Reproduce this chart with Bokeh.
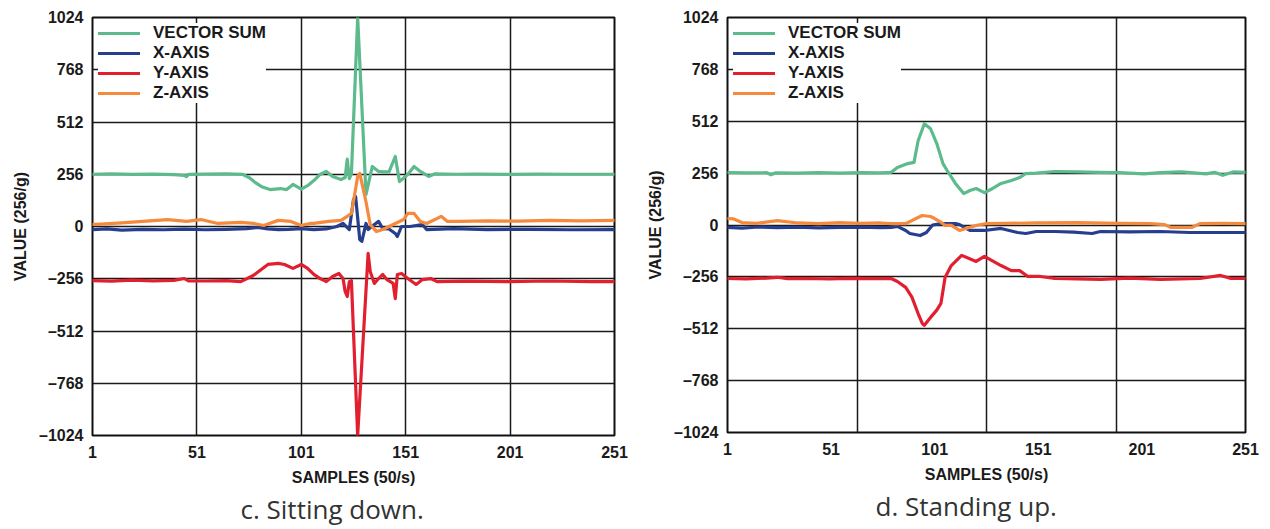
from bokeh.plotting import figure
from bokeh.layouts import row
from bokeh.models import Range1d, FixedTicker, Legend, LegendItem, Title
from bokeh.embed import file_html
from bokeh.resources import INLINE

# ---------------- data: c. Sitting down ----------------
sit_vec_s = [1, 10, 20, 30, 40, 45, 46, 47, 55, 65, 73, 76, 79, 82, 86, 91, 94, 97, 101, 104, 107, 110, 113, 116,
             120, 122, 123, 124, 125, 128, 132, 135, 138, 140, 143, 146, 148, 152, 155, 158, 162, 165, 175, 185,
             200, 215, 230, 251]
sit_vec_v = [256, 258, 255, 257, 254, 250, 244, 255, 257, 258, 255, 240, 215, 195, 181, 186, 181, 206, 183, 200,
             225, 255, 270, 245, 230, 240, 330, 235, 258, 1024, 157, 294, 270, 268, 268, 343, 220, 255, 294, 270,
             245, 258, 256, 257, 255, 257, 256, 256]

sit_x_s = [1, 8, 15, 25, 35, 45, 55, 65, 75, 80, 85, 90, 95, 101, 107, 113, 118, 121, 124, 126, 127, 129, 130,
           132, 133, 136, 138, 140, 143, 146, 147, 149, 153, 159, 161, 174, 190, 210, 230, 251]
sit_x_v = [-15, -12, -18, -14, -16, -13, -16, -14, -10, -5, -12, -15, -14, -10, -15, -12, 0, 15, -15, 132, 147,
           -64, -73, 15, -15, 10, 25, -10, -12, -34, -49, 0, 0, 10, -15, -10, -15, -14, -16, -15]

sit_y_s = [1, 10, 20, 30, 40, 45, 47, 55, 65, 72, 78, 85, 90, 93, 97, 101, 104, 107, 110, 113, 116, 119, 121,
           122, 123, 124, 125, 128, 133, 134, 136, 138, 140, 142, 145, 146, 147, 149, 152, 156, 159, 163, 166,
           180, 200, 220, 240, 251]
sit_y_v = [-265, -268, -263, -266, -264, -255, -266, -267, -265, -270, -240, -186, -181, -186, -205, -186, -205,
           -235, -255, -270, -245, -230, -255, -318, -343, -270, -265, -1024, -132, -220, -279, -255, -235, -260,
           -279, -353, -235, -230, -255, -284, -260, -255, -270, -268, -270, -267, -270, -270]

sit_z_s = [1, 5, 15, 25, 37, 46, 53, 61, 72, 78, 83, 90, 96, 101, 105, 107, 114, 120, 123, 125, 128, 129, 132,
           134, 137, 140, 143, 146, 150, 152, 155, 158, 161, 165, 168, 171, 177, 190, 205, 220, 235, 251]
sit_z_v = [10, 12, 18, 25, 34, 25, 34, 15, 20, 15, 5, 30, 25, 5, 15, 15, 25, 30, 50, 64, 245, 260, 120, 10, -25,
           -15, 0, 15, 34, 64, 64, 25, 15, 34, 50, 25, 25, 28, 26, 30, 28, 30]

# ---------------- data: d. Standing up ----------------
std_vec_s = [1, 10, 20, 22, 24, 35, 45, 55, 65, 75, 80, 83, 88, 91, 93, 96, 99, 102, 105, 107, 111, 115, 118, 121,
             125, 128, 133, 138, 142, 145, 150, 159, 170, 180, 190, 202, 210, 220, 232, 236, 240, 245, 251]
std_vec_v = [259, 257, 258, 248, 257, 256, 258, 256, 258, 257, 260, 284, 303, 309, 416, 500, 475, 402, 303, 269,
             205, 155, 170, 180, 160, 175, 205, 220, 234, 254, 256, 264, 262, 260, 258, 252, 258, 262, 252, 260,
             245, 262, 260]

std_x_s = [1, 8, 16, 25, 35, 45, 55, 65, 75, 80, 83, 87, 89, 94, 97, 100, 104, 111, 113, 118, 125, 133, 141, 145,
           150, 159, 168, 177, 181, 195, 210, 224, 239, 251]
std_x_v = [-12, -15, -10, -13, -11, -14, -12, -10, -13, -12, -7, -27, -42, -52, -37, 0, 7, 7, 2, -27, -27, -17,
           -37, -42, -32, -32, -35, -42, -32, -34, -32, -37, -37, -37]

std_y_s = [1, 10, 20, 25, 30, 40, 50, 60, 70, 80, 83, 87, 90, 93, 95, 96, 99, 102, 104, 106, 109, 114, 121, 125,
           133, 138, 142, 146, 152, 159, 170, 181, 195, 210, 229, 239, 244, 251]
std_y_v = [-264, -266, -262, -258, -265, -264, -266, -263, -265, -264, -279, -308, -356, -437, -486, -495, -456,
           -420, -387, -259, -200, -150, -180, -155, -200, -225, -225, -254, -254, -264, -266, -268, -262, -268,
           -264, -249, -264, -264]

std_z_s = [1, 4, 8, 15, 25, 35, 45, 55, 65, 75, 80, 87, 92, 95, 99, 101, 104, 106, 109, 113, 118, 122, 126, 135,
           150, 170, 190, 205, 212, 215, 225, 229, 240, 251]
std_z_v = [32, 30, 12, 8, 22, 10, 7, 12, 8, 10, 7, 7, 32, 47, 42, 32, 14, -2, -2, -27, -11, 0, 7, 8, 10, 12, 8,
           7, 2, -12, -12, 7, 8, 7]

# ---------------- labels / ticks ----------------
series_names = ["VECTOR SUM", "X-AXIS", "Y-AXIS", "Z-AXIS"]
series_colors = ["#5DBA8C", "#263E8E", "#E11F2E", "#F68A3C"]
y_ticks = [-1024, -768, -512, -256, 0, 256, 512, 768, 1024]
x_ticks = [1, 51, 101, 151, 201, 251]
x_title = "SAMPLES (50/s)"
y_title = "VALUE (256/g)"
captions = ["c. Sitting down.", "d. Standing up."]

BOLD = "Liberation Sans"


def make_panel(series, caption, frame_w, frame_h, left, top, bottom, right, vgrid):
    p = figure(frame_width=frame_w, frame_height=frame_h,
               min_border_left=left, min_border_right=right,
               min_border_top=top, min_border_bottom=bottom,
               x_range=Range1d(1, 251), y_range=Range1d(-1024, 1024),
               output_backend="svg", toolbar_location=None,
               background_fill_color="white", border_fill_color="white")
    p.outline_line_color = "#111111"
    p.outline_line_width = 2

    for ax in (p.xaxis[0], p.yaxis[0]):
        ax.axis_line_color = None
        ax.major_tick_in = 0
        ax.major_tick_out = 0
        ax.minor_tick_in = 0
        ax.minor_tick_out = 0
        ax.major_label_text_font = BOLD
        ax.major_label_text_font_style = "bold"
        ax.major_label_text_font_size = "16px"
        ax.major_label_text_color = "#1a1a1a"
        ax.axis_label_text_font = BOLD
        ax.axis_label_text_font_style = "bold"
        ax.axis_label_text_font_size = "16px"
        ax.axis_label_text_color = "#1a1a1a"
    p.xaxis.ticker = FixedTicker(ticks=x_ticks)
    p.yaxis.ticker = FixedTicker(ticks=y_ticks)
    p.yaxis.major_label_overrides = {t: (str(t).replace("-", "\u2013")) for t in y_ticks}
    p.xaxis.axis_label = x_title
    p.yaxis.axis_label = y_title
    p.xaxis.major_label_standoff = 10
    p.xaxis.axis_label_standoff = 8
    p.yaxis.major_label_standoff = 9
    p.yaxis.axis_label_standoff = 7

    p.xgrid.ticker = FixedTicker(ticks=vgrid)
    p.ygrid.ticker = FixedTicker(ticks=y_ticks)
    for g in (p.xgrid[0], p.ygrid[0]):
        g.grid_line_color = "#1a1a1a"
        g.grid_line_width = 1.5
        g.grid_line_alpha = 1.0

    items = []
    for (s, v), name, col in zip(series, series_names, series_colors):
        r = p.line(s, v, line_color=col, line_width=3.2, line_join="round", line_cap="round")
        items.append(LegendItem(label=name, renderers=[r]))

    leg = Legend(items=items, location="top_left", margin=6, padding=10, spacing=-2,
                 glyph_width=42, glyph_height=18, label_height=18, label_standoff=13,
                 label_text_font=BOLD, label_text_font_style="bold", label_text_font_size="17px",
                 label_text_line_height=1.0, label_text_color="#1a1a1a",
                 background_fill_color="white", background_fill_alpha=1.0,
                 border_line_color=None)
    p.add_layout(leg)

    t = Title(text=caption, align="left", offset=148, text_font="Open Sans",
              text_font_style="normal", text_font_size="26px", text_color="#333333", standoff=0)
    p.add_layout(t, "below")
    return p


p1 = make_panel([(sit_vec_s, sit_vec_v), (sit_x_s, sit_x_v), (sit_y_s, sit_y_v), (sit_z_s, sit_z_v)],
                captions[0], 522, 418, 92, 16, 87, 29, [51, 101, 151, 201])
p2 = make_panel([(std_vec_s, std_vec_v), (std_x_s, std_x_v), (std_y_s, std_y_v), (std_z_s, std_z_v)],
                captions[1], 518, 415, 84, 17, 89, 17, [63.5, 126, 188.5])

layout = row(p1, p2)
open("out.html", "w").write(file_html(layout, INLINE))
